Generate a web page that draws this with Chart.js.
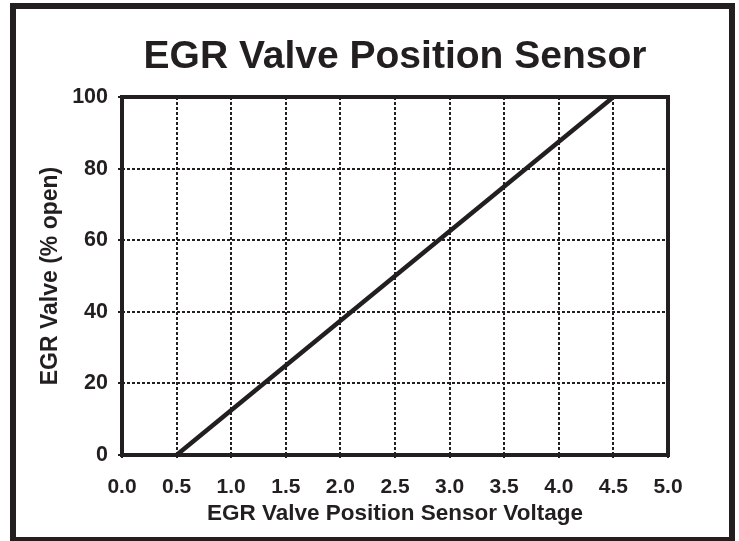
<!DOCTYPE html>
<html>
<head>
<meta charset="utf-8">
<title>EGR Valve Position Sensor</title>
<script src="https://cdn.jsdelivr.net/npm/chart.js@4.4.1/dist/chart.umd.min.js"></script>
<style>
  html, body { margin: 0; padding: 0; background: #fff; }
  #wrap { position: relative; width: 739px; height: 541px; overflow: hidden; }
  #frame {
    position: absolute; left: 10px; top: 3px; width: 725px; height: 540px;
    border: 6px solid #231f20; box-sizing: border-box; pointer-events: none;
  }
</style>
</head>
<body>
<div id="wrap">
  <canvas id="egrChart" width="739" height="541"></canvas>
  <div id="frame"></div>
</div>
<script>
// sensor voltage (V) vs valve opening (%)
const voltage = [0.5, 4.5];
const valveOpen = [0, 100];
const xTicks = [0.0, 0.5, 1.0, 1.5, 2.0, 2.5, 3.0, 3.5, 4.0, 4.5, 5.0];
const yTicks = [0, 20, 40, 60, 80, 100];

const INK = '#231f20';
const FONT = '"Liberation Sans", Arial, Helvetica, sans-serif';

// heavy box round the plot area
const plotFrame = {
  id: 'plotFrame',
  beforeDatasetsDraw(chart) {
    const { ctx, chartArea: a } = chart;
    ctx.save();
    ctx.strokeStyle = INK;
    ctx.lineWidth = 4;
    ctx.strokeRect(a.left, a.top, a.right - a.left, a.bottom - a.top);
    ctx.restore();
  }
};

// dotted grid, ticks continue the dots outside the box
const gridStyle = {
  color: INK,
  lineWidth: 2,
  tickLength: 4,
  tickColor: INK,
  tickWidth: 2,
  tickBorderDash: [3, 2]
};

new Chart(document.getElementById('egrChart').getContext('2d'), {
  type: 'line',
  data: {
    datasets: [{
      label: 'EGR Valve',
      data: voltage.map((v, i) => ({ x: v, y: valveOpen[i] })),
      borderColor: INK,
      borderWidth: 4.5,
      pointRadius: 0,
      fill: false,
      tension: 0,
      clip: false
    }]
  },
  options: {
    responsive: false,
    animation: false,
    layout: { padding: { left: 0, right: 71, top: 0, bottom: 0 } },
    plugins: {
      legend: { display: false },
      tooltip: { enabled: false },
      title: {
        display: true,
        fullSize: false, // centre over the plot, not the whole canvas
        text: 'EGR Valve Position Sensor',
        color: INK,
        font: { family: FONT, size: 39, weight: 'bold', lineHeight: 1.2 },
        padding: { top: 34, bottom: 16.2 }
      }
    },
    scales: {
      x: {
        type: 'linear',
        min: 0,
        max: 5,
        afterBuildTicks: s => { s.ticks = xTicks.map(v => ({ value: v })); },
        afterFit: s => { s.height = 86; },
        border: { display: false, dash: [3, 2] },
        grid: gridStyle,
        ticks: {
          color: INK,
          padding: 16,
          maxRotation: 0,
          autoSkip: false,
          font: { family: FONT, size: 21, weight: 'bold' },
          callback: v => Number(v).toFixed(1)
        },
        title: {
          display: true,
          text: 'EGR Valve Position Sensor Voltage',
          color: INK,
          font: { family: FONT, size: 22.5, weight: 'bold', lineHeight: 1.2 },
          padding: { top: 0, bottom: 13.5 }
        }
      },
      y: {
        min: 0,
        max: 100,
        afterBuildTicks: s => { s.ticks = yTicks.map(v => ({ value: v })); },
        afterFit: s => { s.width = 122; },
        border: { display: false, dash: [3, 2] },
        grid: gridStyle,
        ticks: {
          color: INK,
          padding: 10,
          autoSkip: false,
          font: { family: FONT, size: 21.5, weight: 'bold' }
        },
        title: {
          display: true,
          text: 'EGR Valve (% open)',
          color: INK,
          font: { family: FONT, size: 23, weight: 'bold', lineHeight: 1.2 },
          padding: { top: 37, bottom: 0 }
        }
      }
    }
  },
  plugins: [plotFrame]
});
</script>
</body>
</html>
